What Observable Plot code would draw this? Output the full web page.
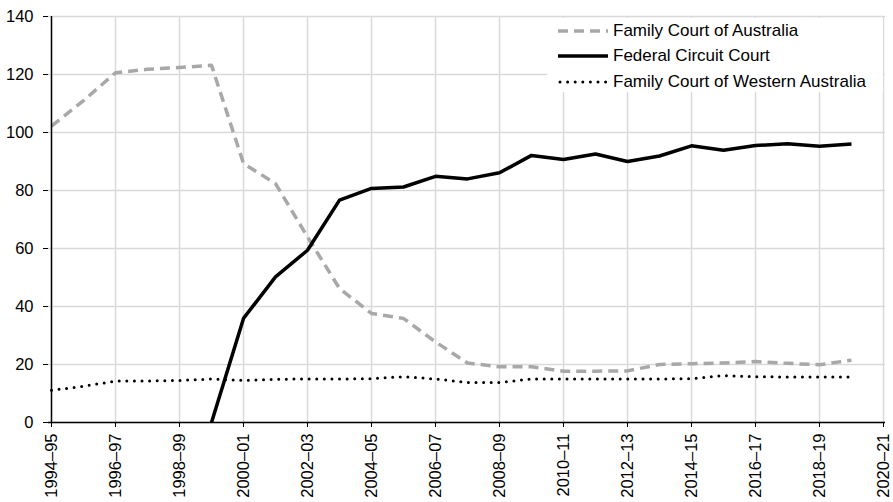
<!DOCTYPE html>
<html>
<head>
<meta charset="utf-8">
<script src="https://cdn.jsdelivr.net/npm/d3@7"></script>
<script src="https://cdn.jsdelivr.net/npm/@observablehq/plot@0.6"></script>
<style>
  html, body { margin: 0; padding: 0; background: #fff; }
  #wrap { position: relative; width: 893px; height: 502px; font-family: "Liberation Sans", Arial, sans-serif; }
  #legend { position: absolute; left: 547px; top: 18px; width: 336px; height: 74px; background: #fff; font-size: 17px; color: #000; }
  .item { display: flex; align-items: center; height: 25.5px; padding-left: 11px; }
  .item svg { width: 50px; height: 8px; margin-right: 5px; }
</style>
</head>
<body>
<div id="wrap"><div id="legend"></div></div>
<script>
const periods = ["1994–95","1995–96","1996–97","1997–98","1998–99","1999–00","2000–01","2001–02","2002–03","2003–04","2004–05","2005–06","2006–07","2007–08","2008–09","2009–10","2010–11","2011–12","2012–13","2013–14","2014–15","2015–16","2016–17","2017–18","2018–19","2019–20","2020–21"];
const dataYears = periods.slice(0, 26);
const familyCourt = [102.2, 111, 120.6, 121.8, 122.4, 123.2, 89.3, 82.4, 64.0, 46.2, 37.6, 35.9, 27.8, 20.5, 19.2, 19.2, 17.7, 17.7, 17.8, 20.0, 20.3, 20.5, 21.0, 20.4, 19.9, 21.5];
const federalCircuit = [null, null, null, null, null, 0, 35.9, 50.2, 59.4, 76.7, 80.7, 81.2, 84.9, 84.0, 86.1, 92.1, 90.7, 92.6, 90.0, 91.9, 95.4, 93.9, 95.5, 96.1, 95.3, 96.0];
const familyCourtWA = [11.1, 12.5, 14.3, 14.3, 14.5, 15.0, 14.5, 14.9, 15.0, 15.0, 15.1, 15.8, 15.0, 13.8, 13.8, 15.0, 15.0, 15.0, 15.0, 15.0, 15.1, 16.2, 15.8, 15.7, 15.7, 15.7];
const xTicks = periods.filter((d, i) => i % 2 === 0);
const yTicks = [0, 20, 40, 60, 80, 100, 120, 140];

const seriesDefs = [
  {name: "Family Court of Australia", values: familyCourt, stroke: "#a9a8a8", width: 3.5, dash: "10,6", cap: "butt"},
  {name: "Federal Circuit Court", values: federalCircuit, stroke: "#000000", width: 3.5, dash: null, cap: "butt"},
  {name: "Family Court of Western Australia", values: familyCourtWA, stroke: "#000000", width: 3, dash: "0,7.6", cap: "round"}
];

const lineMarks = seriesDefs.map(s => Plot.line(
  dataYears.map((p, i) => ({period: p, value: s.values[i]})),
  {x: "period", y: "value", stroke: s.stroke, strokeWidth: s.width, strokeDasharray: s.dash, strokeLinecap: s.cap, strokeLinejoin: "round"}
));

const chart = Plot.plot({
  width: 893,
  height: 502,
  marginLeft: 48,
  marginRight: 8,
  marginTop: 16,
  marginBottom: 80,
  style: {fontFamily: "'Liberation Sans', Arial, sans-serif", fontSize: "16.5px", color: "#000", background: "#fff"},
  x: {type: "point", domain: periods, padding: 0},
  y: {domain: [0, 140]},
  marks: [
    Plot.gridY(yTicks, {stroke: "#d9d9d9", strokeOpacity: 1, strokeWidth: 1.5}),
    Plot.gridX(xTicks, {stroke: "#d9d9d9", strokeOpacity: 1, strokeWidth: 1.5}),
    ...lineMarks,
    Plot.ruleY([0], {stroke: "#000", strokeWidth: 1.5}),
    Plot.ruleX([periods[0]], {stroke: "#000", strokeWidth: 1.5}),
    Plot.axisY(yTicks, {tickSize: 5, tickPadding: 10, label: null, fontSize: 16.5, stroke: "#000"}),
    Plot.axisX(xTicks, {tickSize: 5, tickPadding: 6, tickRotate: -90, label: null, fontSize: 16.5, stroke: "#000"})
  ]
});
const wrap = document.getElementById("wrap");
wrap.insertBefore(chart, wrap.firstChild);

const legend = document.getElementById("legend");
seriesDefs.forEach(s => {
  const item = document.createElement("div");
  item.className = "item";
  item.innerHTML = `<svg viewBox="0 0 50 8"><line x1="${s.cap === 'round' ? 2 : 0}" x2="50" y1="4" y2="4" stroke="${s.stroke}" stroke-width="${s.width}" ${s.dash ? `stroke-dasharray="${s.dash}"` : ""} stroke-linecap="${s.cap}"/></svg><span>${s.name}</span>`;
  legend.appendChild(item);
});
</script>
</body>
</html>
